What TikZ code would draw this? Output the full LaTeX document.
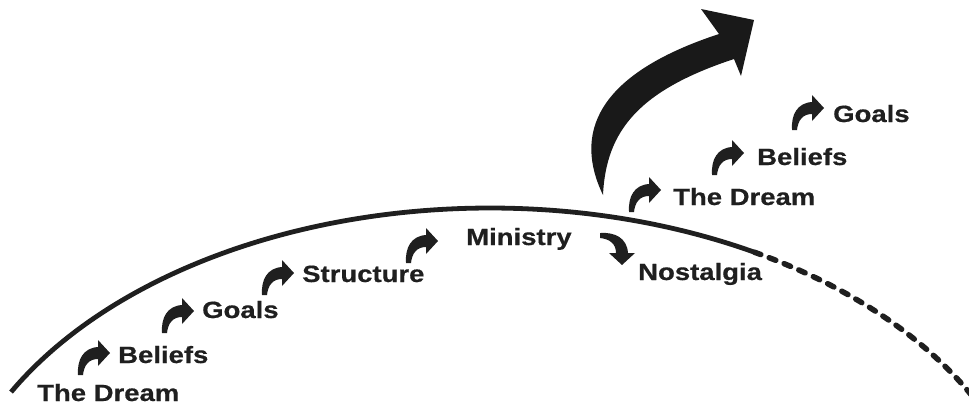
\documentclass[tikz,border=0pt]{standalone}
\usepackage{fontspec}
\setmainfont{Liberation Sans}[FakeStretch=1.17,FakeBold=0.6]
\begin{document}
\begin{tikzpicture}[x=1pt,y=-1pt,
  lbl/.style={anchor=base west,inner sep=0pt,font=\fontsize{23.5}{26}\selectfont\bfseries,text=black!88},
  arc/.style={line width=4.8pt,black!88},
  darc/.style={line width=5.5pt,black!88,line cap=round,dash pattern=on 7pt off 9pt},
  turn/.pic={\fill[black!88] (0,0) .. controls (-1,-15) and (5,-27) .. (20,-28) -- (20,-35) -- (32,-22) -- (20,-9) -- (20,-16) .. controls (11,-16) and (6,-10) .. (5,0) -- cycle;}
]
\useasboundingbox (0,0) rectangle (969,405);
% horizon
\draw[arc] plot[domain=151.5:61,samples=120,smooth] ({490+545*cos(\x)},{560-352*sin(\x)});
\draw[darc] plot[domain=61:27,samples=60,smooth] ({490+545*cos(\x)},{560-352*sin(\x)});
% big arrow
\fill[black!90] (603,195) .. controls (574,135) and (594,75) .. (719,34) -- (701,9) -- (754,20) -- (741,76) -- (734,59) .. controls (640,90) and (606,130) .. (603,195) -- cycle;
% labels
\node[lbl] (d1) at (37,401) {The Dream};
\node[lbl] (b1) at (118,363) {Beliefs};
\node[lbl] (g1) at (202,318) {Goals};
\node[lbl] (s1) at (302,282) {Structure};
\node[lbl] (m1) at (466,245) {Ministry};
\node[lbl] (n1) at (638,280) {Nostalgia};
\node[lbl] (d2) at (673,205) {The Dream};
\node[lbl] (b2) at (757,165) {Beliefs};
\node[lbl] (g2) at (833,122) {Goals};
% small turn arrows
\pic at (78,375) {turn};
\pic at (162,333) {turn};
\pic at (262,295) {turn};
\pic at (406,263) {turn};
\pic at (629,212) {turn};
\pic at (712,175) {turn};
\pic at (792,130) {turn};
\pic[rotate=-90] at (600,233) {turn};
\end{tikzpicture}
\end{document}
